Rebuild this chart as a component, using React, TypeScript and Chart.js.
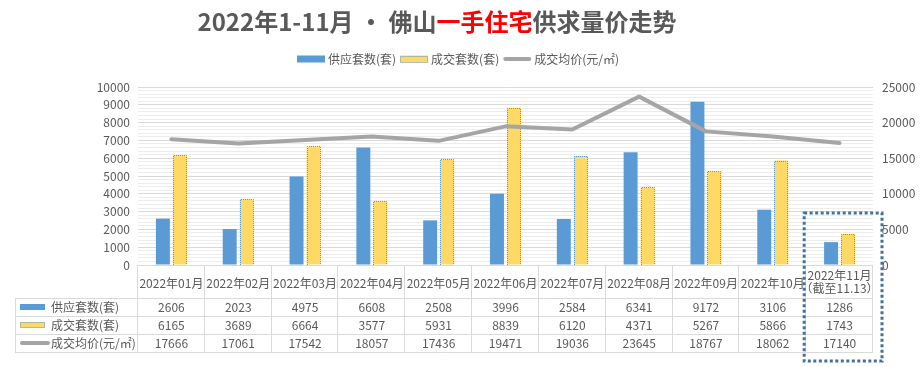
import React, { useEffect, useRef } from 'react';
import { Chart, registerables } from 'chart.js';

Chart.register(...registerables);

const categories: (string | string[])[] = [
  '2022年01月', '2022年02月', '2022年03月', '2022年04月', '2022年05月', '2022年06月',
  '2022年07月', '2022年08月', '2022年09月', '2022年10月', ['2022年11月', '（截至11.13）'],
];
const supply = [2606, 2023, 4975, 6608, 2508, 3996, 2584, 6341, 9172, 3106, 1286];
const deals = [6165, 3689, 6664, 3577, 5931, 8839, 6120, 4371, 5267, 5866, 1743];
const price = [17666, 17061, 17542, 18057, 17436, 19471, 19036, 23645, 18767, 18062, 17140];
const seriesNames = ['供应套数(套)', '成交套数(套)', '成交均价(元/㎡)'];
const titleParts = [
  { text: '2022年1-11月 · 佛山', color: '#595959' },
  { text: '一手住宅', color: '#FF0000' },
  { text: '供求量价走势', color: '#595959' },
];

const FONT = '"Noto Sans CJK SC", "Noto Sans", sans-serif';
const TEXT = '#595959';
const BLUE = '#5B9BD5';
const YELLOW = '#FFD966';
const GRAY = '#A5A5A5';
const GRID = '#D9D9D9';
const GRID_MINOR = '#EDEDED';
const BOX = '#41719C';

function crisp(v: number) {
  return Math.round(v) + 0.5;
}

function swatch(ctx: CanvasRenderingContext2D, kind: number, x: number, y: number, w: number, h: number) {
  ctx.save();
  if (kind === 0) {
    ctx.fillStyle = BLUE;
    ctx.fillRect(x, y - h / 2, w, h);
  } else if (kind === 1) {
    ctx.fillStyle = YELLOW;
    ctx.fillRect(x, y - h / 2, w, h);
    ctx.strokeStyle = BLUE;
    ctx.lineWidth = 1;
    ctx.setLineDash([1, 1]);
    ctx.strokeRect(Math.round(x) + 0.5, Math.round(y - h / 2) + 0.5, Math.round(w) - 1, Math.round(h) - 1);
  } else {
    ctx.strokeStyle = GRAY;
    ctx.lineWidth = 4;
    ctx.lineCap = 'round';
    ctx.beginPath();
    ctx.moveTo(x + 2, y);
    ctx.lineTo(x + w - 2, y);
    ctx.stroke();
  }
  ctx.restore();
}

const dottedBarPlugin = {
  id: 'dottedBar',
  afterDatasetDraw(chart: any, args: any) {
    if (args.index !== 2) return;
    const ctx = chart.ctx as CanvasRenderingContext2D;
    const meta = chart.getDatasetMeta(2);
    ctx.save();
    ctx.strokeStyle = BLUE;
    ctx.lineWidth = 1;
    ctx.setLineDash([1, 1]);
    meta.data.forEach((el: any) => {
      const left = Math.round(el.x - el.width / 2) + 0.5;
      const right = Math.round(el.x + el.width / 2) - 0.5;
      const top = Math.round(el.y) + 0.5;
      const bottom = Math.round(el.base);
      ctx.beginPath();
      ctx.moveTo(left, bottom);
      ctx.lineTo(left, top);
      ctx.lineTo(right, top);
      ctx.lineTo(right, bottom);
      ctx.stroke();
    });
    ctx.restore();
  },
};

const decorPlugin = {
  id: 'decor',
  afterDraw(chart: any) {
    const ctx = chart.ctx as CanvasRenderingContext2D;
    const area = chart.chartArea;
    const xs = chart.scales.x;
    const L = area.left;
    const R = area.right;
    const B = area.bottom;
    const n = categories.length;
    const colW = (R - L) / n;
    const headerH = 34;
    const rowH = 18;
    const tableLeft = 16;
    const yHead = B + headerH;
    const yEnd = yHead + rowH * 3;

    ctx.save();
    // title
    ctx.font = `bold 24px ${FONT}`;
    ctx.textBaseline = 'middle';
    ctx.textAlign = 'left';
    const total = titleParts.reduce((s, p) => s + ctx.measureText(p.text).width, 0);
    let tx = 437 - total / 2;
    titleParts.forEach((p) => {
      ctx.fillStyle = p.color;
      ctx.fillText(p.text, tx, 22);
      tx += ctx.measureText(p.text).width;
    });

    // legend
    ctx.font = `12px ${FONT}`;
    let lx = 297;
    const ly = 59;
    seriesNames.forEach((name, i) => {
      swatch(ctx, i, lx, ly, 28, 7);
      ctx.fillStyle = TEXT;
      ctx.fillText(name, lx + 31, ly);
      lx += 31 + ctx.measureText(name).width + 4;
    });

    // table grid
    ctx.strokeStyle = GRID;
    ctx.lineWidth = 1;
    for (let r = 0; r <= 3; r++) {
      const y = crisp(yHead + r * rowH - 1);
      ctx.beginPath();
      ctx.moveTo(tableLeft, y);
      ctx.lineTo(R, y);
      ctx.stroke();
    }
    for (let i = 0; i <= n; i++) {
      const x = crisp(L + i * colW - 1);
      ctx.beginPath();
      ctx.moveTo(x, B);
      ctx.lineTo(x, yEnd);
      ctx.stroke();
    }
    ctx.beginPath();
    ctx.moveTo(crisp(tableLeft - 1), yHead - 1);
    ctx.lineTo(crisp(tableLeft - 1), yEnd);
    ctx.stroke();

    // header labels
    ctx.fillStyle = TEXT;
    ctx.textAlign = 'center';
    ctx.font = `12px ${FONT}`;
    categories.forEach((c, i) => {
      const cx = xs.getPixelForValue(i);
      if (Array.isArray(c)) {
        ctx.fillText(c[0], cx, B + 10);
        ctx.fillText(c[1], cx, B + 23);
      } else {
        ctx.fillText(c, cx, B + 18);
      }
    });

    // rows
    const rows = [supply, deals, price];
    rows.forEach((vals, r) => {
      const cy = yHead + r * rowH + rowH / 2 - 1;
      ctx.textAlign = 'center';
      ctx.fillStyle = TEXT;
      vals.forEach((v, i) => {
        ctx.fillText(String(v), xs.getPixelForValue(i), cy);
      });
      swatch(ctx, r, 20, cy, r === 2 ? 30 : 25, r === 2 ? 4 : 6);
      ctx.textAlign = 'left';
      ctx.fillStyle = TEXT;
      ctx.fillText(seriesNames[r], 51, cy);
    });

    // highlight box around the last month
    const lastLeft = L + (n - 1) * colW;
    ctx.strokeStyle = BOX;
    ctx.lineWidth = 3;
    ctx.setLineDash([3, 2.5]);
    ctx.strokeRect(lastLeft - 2, B - 52, R + 9 - (lastLeft - 2), 148);
    ctx.restore();
  },
};

export default function App() {
  const ref = useRef<HTMLCanvasElement | null>(null);

  useEffect(() => {
    if (!ref.current) return;
    const chart = new Chart(ref.current, {
      type: 'bar',
      data: {
        labels: categories.map((c) => (Array.isArray(c) ? c.join('') : c)),
        datasets: [
          {
            type: 'line',
            label: seriesNames[2],
            data: price,
            yAxisID: 'y1',
            borderColor: GRAY,
            borderWidth: 4,
            borderCapStyle: 'round',
            borderJoinStyle: 'round',
            pointRadius: 0,
            tension: 0,
            order: 0,
          } as any,
          {
            label: seriesNames[0],
            data: supply,
            yAxisID: 'y',
            backgroundColor: BLUE,
            categoryPercentage: 0.51,
            barPercentage: 0.82,
            order: 1,
          },
          {
            label: seriesNames[1],
            data: deals,
            yAxisID: 'y',
            backgroundColor: YELLOW,
            categoryPercentage: 0.51,
            barPercentage: 0.82,
            order: 2,
          },
        ],
      },
      options: {
        responsive: false,
        animation: false,
        layout: { padding: { top: 87, bottom: 102, left: 0, right: 0 } },
        plugins: {
          legend: { display: false },
          title: { display: false },
          tooltip: { enabled: false },
        },
        scales: {
          x: { display: false },
          y: {
            position: 'left',
            min: 0,
            max: 10000,
            afterFit: (s: any) => { s.width = 138; },
            border: { display: false },
            grid: {
              drawTicks: false,
              color: (c: any) => (c.tick && c.tick.value % 1000 === 0 ? GRID : GRID_MINOR),
            },
            ticks: {
              stepSize: 200,
              autoSkip: false,
              padding: 8,
              color: TEXT,
              font: { family: FONT, size: 12 },
              callback: (v: any) => (Number(v) % 1000 === 0 ? String(v) : ''),
            },
          },
          y1: {
            position: 'right',
            min: 0,
            max: 25000,
            afterFit: (s: any) => { s.width = 48; },
            border: { display: false },
            grid: { display: false, drawTicks: false },
            ticks: {
              stepSize: 5000,
              padding: 9,
              color: TEXT,
              font: { family: FONT, size: 12 },
              callback: (v: any) => String(v),
            },
          },
        },
      },
      plugins: [dottedBarPlugin, decorPlugin],
    });
    return () => chart.destroy();
  }, []);

  return (
    <div style={{ position: 'absolute', left: 0, top: 0, width: 921, height: 367, background: '#fff' }}>
      <canvas ref={ref} width={921} height={367} style={{ display: 'block' }} />
    </div>
  );
}
